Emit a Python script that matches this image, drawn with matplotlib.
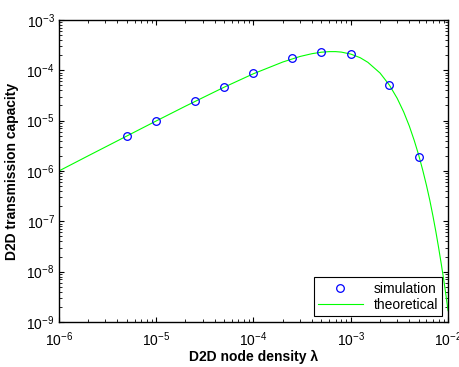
import numpy as np
import matplotlib
matplotlib.use('Agg')
import matplotlib.pyplot as plt

# simulation points
sim_lambda = [5e-6, 1e-5, 2.5e-5, 5e-5, 1e-4, 2.5e-4, 5e-4, 1e-3, 2.5e-3, 5e-3]
sim_cap = [5.0e-6, 1.0e-5, 2.45e-5, 4.7e-5, 8.9e-5, 1.73e-4, 2.35e-4, 2.1e-4, 5.2e-5, 1.9e-6]

# theoretical curve, sampled from the figure
th_lambda = [1e-6, 2e-6, 5e-6, 1e-5, 2e-5, 5e-5, 1e-4, 2e-4, 3e-4, 4e-4, 5e-4, 6e-4,
             7e-4, 8e-4, 1e-3, 1.25e-3, 1.5e-3, 2e-3, 2.5e-3, 3e-3, 3.5e-3, 4e-3,
             4.5e-3, 5e-3, 5.5e-3, 6e-3, 6.5e-3, 7e-3, 7.5e-3, 8e-3, 8.5e-3, 9e-3,
             9.5e-3, 1e-2]
th_cap = [1.0e-6, 2.0e-6, 4.96e-6, 9.85e-6, 1.94e-5, 4.62e-5, 8.55e-5, 1.46e-4, 1.88e-4,
          2.14e-4, 2.29e-4, 2.35e-4, 2.35e-4, 2.30e-4, 2.10e-4, 1.78e-4, 1.44e-4,
          8.83e-5, 5.06e-5, 2.78e-5, 1.49e-5, 7.8e-6, 4.0e-6, 2.05e-6, 1.03e-6,
          5.2e-7, 2.6e-7, 1.27e-7, 6.2e-8, 3.0e-8, 1.46e-8, 7.2e-9, 3.5e-9, 1.68e-9]

plt.rcParams['font.family'] = ['Liberation Sans', 'DejaVu Sans']
plt.rcParams['mathtext.default'] = 'regular'

fig = plt.figure(figsize=(4.6, 3.67), dpi=100)
ax = fig.add_axes([0.128, 0.1226, 0.846, 0.823])

ax.plot(sim_lambda, sim_cap, 'o', mfc='none', mec='#0000ff', ms=5.5, mew=0.9,
        label='simulation', zorder=3)
ax.plot(th_lambda, th_cap, '-', color='#00ff00', lw=0.8, label='theoretical')

ax.set_xscale('log')
ax.set_yscale('log')
ax.set_xlim(1e-6, 1e-2)
ax.set_ylim(1e-9, 1e-3)

ax.tick_params(which='both', direction='in', top=True, right=True, labelsize=10)
ax.tick_params(which='major', length=3.5, width=0.8)
ax.tick_params(which='minor', length=2, width=0.6)
ax.tick_params(axis='x', which='major', pad=6)
ax.tick_params(axis='y', which='major', pad=3)
for s in ax.spines.values():
    s.set_linewidth(1.0)

ax.set_xlabel('D2D node density λ', fontsize=10, fontweight='bold', labelpad=1)
ax.set_ylabel('D2D transmission capacity', fontsize=10, fontweight='bold', labelpad=5)

leg = ax.legend(loc='lower right', fontsize=10, frameon=True, fancybox=False,
                edgecolor='black', framealpha=1, borderaxespad=0.4,
                handlelength=3.2, borderpad=0.3, labelspacing=0.2)
leg.get_frame().set_linewidth(0.8)

plt.savefig('out.png', dpi=100)
